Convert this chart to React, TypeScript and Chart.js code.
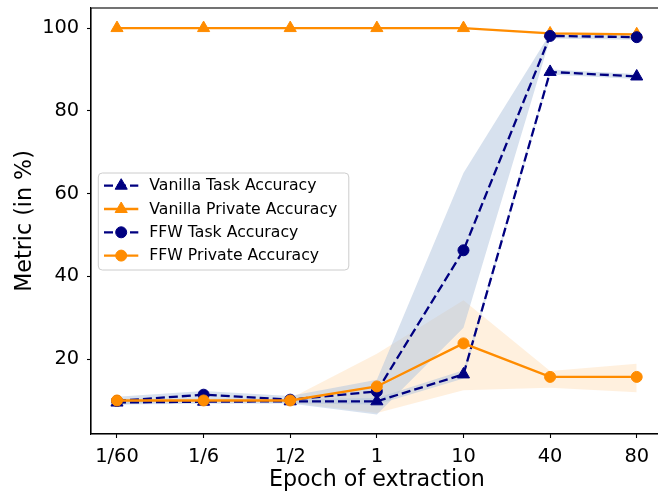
import React, { useEffect, useRef } from 'react';
import { Chart, registerables } from 'chart.js';

Chart.register(...registerables);

const LABELS = ['1/60', '1/6', '1/2', '1', '10', '40', '80'];
const Y_TICKS = [20, 40, 60, 80, 100];

const vanillaTask = [9.5, 9.7, 9.8, 9.8, 16.3, 89.4, 88.3];
const vanillaTaskLo = [9.0, 9.2, 9.3, 9.0, 15.3, 88.8, 87.7];
const vanillaTaskHi = [10.0, 10.2, 10.3, 10.6, 17.3, 90.0, 88.9];

const vanillaPrivate = [100, 100, 100, 100, 100, 98.7, 98.5];
const vanillaPrivateLo = [99.8, 99.8, 99.8, 99.8, 99.8, 98.4, 98.2];
const vanillaPrivateHi = [100, 100, 100, 100, 100, 99.0, 98.8];

const ffwTask = [9.9, 11.4, 10.2, 12.2, 46.3, 98.1, 97.8];
const ffwTaskLo = [8.9, 10.5, 9.3, 6.6, 27.6, 97.5, 97.2];
const ffwTaskHi = [10.9, 12.3, 11.1, 15.0, 65.0, 98.7, 98.4];

const ffwPrivate = [10.0, 10.0, 10.0, 13.4, 23.8, 15.7, 15.7];
const ffwPrivateLo = [9.5, 9.5, 9.5, 7.0, 12.5, 13.1, 12.0];
const ffwPrivateHi = [10.5, 10.5, 10.5, 21.3, 34.2, 17.1, 18.9];

const NAVY = '#000080';
const ORANGE = '#ff8c00';
const BLUE_BAND = 'rgba(176,196,222,0.5)';
const ORANGE_BAND = 'rgba(255,140,0,0.13)';
const FONT = "'DejaVu Sans', sans-serif";
const DASH = [9, 4];

const pts = (arr: number[]) => arr.map((y, i) => ({ x: i, y }));

const LEGEND = [
  { label: 'Vanilla Task Accuracy', color: NAVY, dash: DASH, marker: 'triangle' },
  { label: 'Vanilla Private Accuracy', color: ORANGE, dash: [], marker: 'triangle' },
  { label: 'FFW Task Accuracy', color: NAVY, dash: DASH, marker: 'circle' },
  { label: 'FFW Private Accuracy', color: ORANGE, dash: [], marker: 'circle' },
];

function drawMarker(ctx: CanvasRenderingContext2D, kind: string, x: number, y: number, color: string) {
  ctx.save();
  ctx.setLineDash([]);
  ctx.fillStyle = color;
  ctx.strokeStyle = color;
  ctx.lineWidth = 1;
  ctx.beginPath();
  if (kind === 'circle') {
    ctx.arc(x, y, 5.5, 0, Math.PI * 2);
  } else {
    const r = 7;
    let a = 0;
    ctx.moveTo(x + Math.sin(a) * r, y - Math.cos(a) * r);
    a += (2 * Math.PI) / 3;
    ctx.lineTo(x + Math.sin(a) * r, y - Math.cos(a) * r);
    a += (2 * Math.PI) / 3;
    ctx.lineTo(x + Math.sin(a) * r, y - Math.cos(a) * r);
    ctx.closePath();
  }
  ctx.fill();
  ctx.stroke();
  ctx.restore();
}

const framePlugin = {
  id: 'frame',
  afterDatasetsDraw(chart: any) {
    const { ctx, chartArea } = chart;
    ctx.save();
    ctx.strokeStyle = '#000';
    ctx.lineWidth = 1.1;
    ctx.strokeRect(chartArea.left, chartArea.top, chartArea.right - chartArea.left, chartArea.bottom - chartArea.top);
    ctx.restore();
  },
};

const legendPlugin = {
  id: 'mplLegend',
  afterDatasetsDraw(chart: any) {
    const { ctx, chartArea } = chart;
    const x0 = chartArea.left + 7.3;
    const y0 = chartArea.top + 165;
    const w = 250.5;
    const h = 97;
    const r = 4;
    ctx.save();
    ctx.beginPath();
    ctx.moveTo(x0 + r, y0);
    ctx.lineTo(x0 + w - r, y0);
    ctx.quadraticCurveTo(x0 + w, y0, x0 + w, y0 + r);
    ctx.lineTo(x0 + w, y0 + h - r);
    ctx.quadraticCurveTo(x0 + w, y0 + h, x0 + w - r, y0 + h);
    ctx.lineTo(x0 + r, y0 + h);
    ctx.quadraticCurveTo(x0, y0 + h, x0, y0 + h - r);
    ctx.lineTo(x0, y0 + r);
    ctx.quadraticCurveTo(x0, y0, x0 + r, y0);
    ctx.closePath();
    ctx.fillStyle = 'rgba(255,255,255,0.8)';
    ctx.fill();
    ctx.strokeStyle = 'rgba(204,204,204,1)';
    ctx.lineWidth = 1;
    ctx.stroke();

    LEGEND.forEach((it, i) => {
      const cy = y0 + 12.7 + i * 23.3;
      ctx.save();
      ctx.strokeStyle = it.color;
      ctx.lineWidth = 2.3;
      ctx.setLineDash(it.dash);
      ctx.beginPath();
      ctx.moveTo(x0 + 5.7, cy);
      ctx.lineTo(x0 + 40, cy);
      ctx.stroke();
      ctx.restore();
      drawMarker(ctx, it.marker, x0 + 22.9, cy, it.color);
      ctx.fillStyle = '#000';
      ctx.font = `15.7px ${FONT}`;
      ctx.textBaseline = 'middle';
      ctx.textAlign = 'left';
      ctx.fillText(it.label, x0 + 51, cy + 0.5);
    });
    ctx.restore();
  },
};

function band(data: number[], color: string, target: number | false) {
  return {
    label: '',
    data: pts(data),
    borderWidth: 0,
    borderColor: 'transparent',
    pointRadius: 0,
    backgroundColor: color,
    fill: target === false ? false : target,
    order: 20,
  };
}

function line(label: string, data: number[], color: string, dashed: boolean, marker: string, order: number) {
  return {
    label,
    data: pts(data),
    borderColor: color,
    backgroundColor: color,
    borderWidth: 2.3,
    borderDash: dashed ? DASH : [],
    pointStyle: marker,
    pointRadius: marker === 'circle' ? 5.5 : 7,
    pointBorderWidth: 1,
    pointBorderColor: color,
    pointBackgroundColor: color,
    fill: false,
    tension: 0,
    order,
  };
}

export default function App() {
  const ref = useRef<HTMLCanvasElement | null>(null);
  useEffect(() => {
    if (!ref.current) return;
    const chart = new Chart(ref.current, {
      type: 'line',
      data: {
        datasets: [
          band(vanillaTaskHi, BLUE_BAND, 1),
          band(vanillaTaskLo, BLUE_BAND, false),
          band(vanillaPrivateHi, ORANGE_BAND, 3),
          band(vanillaPrivateLo, ORANGE_BAND, false),
          band(ffwTaskHi, BLUE_BAND, 5),
          band(ffwTaskLo, BLUE_BAND, false),
          band(ffwPrivateHi, ORANGE_BAND, 7),
          band(ffwPrivateLo, ORANGE_BAND, false),
          line('Vanilla Task Accuracy', vanillaTask, NAVY, true, 'triangle', 4),
          line('Vanilla Private Accuracy', vanillaPrivate, ORANGE, false, 'triangle', 3),
          line('FFW Task Accuracy', ffwTask, NAVY, true, 'circle', 2),
          line('FFW Private Accuracy', ffwPrivate, ORANGE, false, 'circle', 1),
        ] as any,
      },
      options: {
        responsive: false,
        animation: false,
        devicePixelRatio: 1,
        layout: { padding: { left: 0, top: 7.3, right: 17.3, bottom: 0 } },
        plugins: {
          legend: { display: false },
          tooltip: { enabled: false },
          filler: { drawTime: 'beforeDatasetsDraw' },
        } as any,
        scales: {
          x: {
            type: 'linear',
            min: -0.3,
            max: 6.3,
            afterBuildTicks: (s: any) => {
              s.ticks = LABELS.map((_, i) => ({ value: i }));
            },
            afterFit: (s: any) => {
              s.height = 58;
              s.paddingLeft = 0;
              s.paddingRight = 0;
            },
            ticks: {
              callback: (v: any) => LABELS[Math.round(Number(v))] ?? '',
              color: '#000',
              font: { family: FONT, size: 19.4 },
              padding: 7.3,
              maxRotation: 0,
              autoSkip: false,
            },
            grid: {
              drawOnChartArea: false,
              drawTicks: true,
              tickLength: 4,
              tickColor: '#000',
              tickWidth: 1.1,
            },
            border: { display: true, color: '#000', width: 1.1 },
            title: {
              display: true,
              text: 'Epoch of extraction',
              color: '#000',
              font: { family: FONT, size: 22.2, lineHeight: 1 },
              padding: { top: 0, bottom: 1 },
            },
          },
          y: {
            type: 'linear',
            min: 1.9,
            max: 104.85,
            afterBuildTicks: (s: any) => {
              s.ticks = Y_TICKS.map((v) => ({ value: v }));
            },
            afterFit: (s: any) => {
              s.width = 91;
              s.paddingTop = 0;
              s.paddingBottom = 0;
            },
            ticks: {
              color: '#000',
              font: { family: FONT, size: 19.4 },
              padding: 7.8,
            },
            grid: {
              drawOnChartArea: false,
              drawTicks: true,
              tickLength: 4,
              tickColor: '#000',
              tickWidth: 1.1,
            },
            border: { display: true, color: '#000', width: 1.1 },
            title: {
              display: true,
              text: 'Metric (in %)',
              color: '#000',
              font: { family: FONT, size: 22.2, lineHeight: 1.2 },
              padding: { top: 12, bottom: 0 },
            },
          },
        },
      } as any,
      plugins: [framePlugin, legendPlugin],
    });
    return () => chart.destroy();
  }, []);

  return (
    <div style={{ position: 'fixed', left: 0, top: 0, width: 658, height: 492, overflow: 'hidden', background: '#fff' }}>
      <canvas ref={ref} width={680} height={492} style={{ display: 'block', width: 680, height: 492 }} />
    </div>
  );
}
